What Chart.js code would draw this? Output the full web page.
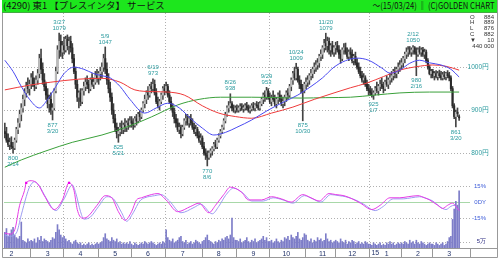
<!DOCTYPE html>
<html lang="ja">
<head>
<meta charset="utf-8">
<title>4290 プレスインタ</title>
<script src="https://cdn.jsdelivr.net/npm/chart.js@4.4.1/dist/chart.umd.min.js"></script>
<style>
  html, body { margin: 0; padding: 0; background: #fff; }
  #wrap { position: relative; width: 500px; height: 258px; overflow: hidden; }
  #chart { position: absolute; left: 0; top: 0; }
  #head { position: absolute; left: 2px; top: 0; width: 495px; height: 12px; background: #1de61d;
          border-bottom: 1px solid #4a4; font-family: 'Noto Sans CJK JP', sans-serif; line-height: 12px;
          color: #111; white-space: nowrap; }
  #head .l { position: absolute; left: 1px; top: 0; font-size: 9px; transform-origin: left center; transform: scaleX(1.05); }
  #head .r { position: absolute; right: 3px; top: 0; font-size: 9px; transform-origin: right center; transform: scaleX(0.85); }
</style>
</head>
<body>
<div id="wrap">
  <canvas id="chart" width="500" height="258"></canvas>
  <div id="head"><span class="l">(4290) 東1 【プレスインタ】 サービス</span><span class="r">～(15/03/24) ‖ (C)GOLDEN CHART</span></div>
</div>
<script>
// months on the axis (2014/2 .. 2015/3) and trading days in each
const monthLabels = ['2', '3', '4', '5', '6', '7', '8', '9', '10', '11', '12', '1', '2', '3'];
const monthDays = [16, 20, 21, 20, 21, 22, 21, 20, 22, 18, 21, 19, 19, 17];
const quarterMonths = [2, 5, 8, 11]; // dotted verticals at Apr, Jul, Oct, Jan

const priceTicks = [800, 900, 1000];
const oscTicks = [15, 0, -15];
const oscTickLabels = ['15%', '0DY', '-15%'];
const volTicks = [5];

// daily candles
const opens = [
  850,845,830,820,825,815,812,830,855,870,890,905,925,940,955,950,
  960,975,960,955,970,985,1020,995,970,955,935,915,925,900,905,945,990,1040,1060,1035,
  1050,1040,1065,1050,1060,1045,1020,990,960,930,940,920,945,955,965,960,950,970,960,965,980,
  975,985,990,1000,1020,995,970,950,930,900,880,860,845,850,860,855,865,860,870,865,
  875,870,865,880,875,890,885,900,915,925,940,935,955,950,960,940,920,910,920,935,950,
  945,955,935,920,905,895,880,870,855,860,845,860,875,880,870,880,870,860,850,855,840,830,
  835,815,800,795,790,800,805,810,820,815,830,840,850,860,875,890,905,910,915,905,900,
  905,900,905,908,903,905,910,905,900,903,910,905,912,910,905,915,925,935,930,945,
  930,920,930,925,915,925,935,925,915,920,930,940,935,955,970,985,975,995,970,960,950,945,
  960,965,970,980,985,995,1000,1005,1010,1025,1030,1045,1055,1050,1060,1040,1050,1035,
  1045,1050,1040,1030,1020,1040,1045,1035,1025,1035,1030,1015,1025,1010,1000,990,980,970,975,960,950,
  945,940,935,940,950,945,955,960,955,950,965,960,970,975,980,990,985,995,1000,
  1005,1010,1020,1030,1035,1040,1035,1040,1045,1035,1030,1040,1035,1040,1030,1035,1015,1000,985,
  990,980,985,978,985,980,975,982,978,985,980,975,950,910,885,895,884
];
const highs = [
  870,860,845,835,838,825,835,860,880,900,915,935,950,965,975,970,
  985,990,975,980,995,1030,1042,1010,985,965,950,935,940,915,950,1000,1050,1079,1075,1060,
  1070,1072,1075,1070,1072,1055,1030,1000,970,945,950,950,965,975,980,970,975,985,975,990,995,
  990,1000,1010,1030,1047,1010,985,965,940,915,890,870,860,870,875,870,880,875,880,885,
  885,880,885,890,895,900,905,920,935,945,955,960,965,973,970,950,930,925,940,955,960,
  965,960,945,930,915,905,890,880,870,865,865,880,890,890,885,890,880,870,865,860,850,845,
  840,825,810,805,805,810,815,825,830,835,845,855,865,880,895,910,920,938,920,912,910,
  912,910,915,915,912,915,918,912,910,915,918,915,920,918,920,930,940,945,953,950,
  940,935,945,935,930,940,945,935,930,935,945,950,960,975,990,1000,1009,1000,980,970,960,965,
  975,980,985,995,1000,1010,1015,1020,1030,1040,1050,1065,1079,1070,1068,1055,1060,1050,
  1058,1060,1050,1040,1045,1055,1056,1045,1040,1045,1040,1030,1035,1020,1010,1000,990,985,980,970,960,
  955,950,945,955,965,960,970,975,965,970,980,975,985,990,995,1000,1000,1010,1015,
  1020,1025,1035,1045,1048,1048,1045,1050,1048,1045,1045,1048,1045,1046,1042,1040,1020,1005,995,
  995,990,992,990,993,990,988,990,988,992,988,980,955,915,900,905,889
];
const lows = [
  835,825,815,808,810,800,808,825,845,860,875,895,910,930,940,935,
  950,955,945,950,960,975,985,960,945,925,905,895,890,877,900,940,985,1020,1025,1020,
  1030,1035,1040,1030,1035,1010,985,950,920,905,910,915,935,945,950,940,945,955,950,960,965,
  960,970,975,990,985,960,940,920,890,870,850,835,825,840,845,845,850,850,855,860,
  860,855,860,865,870,875,880,895,905,915,925,930,940,945,935,915,905,900,915,925,935,
  940,930,915,900,885,870,860,850,845,835,840,855,865,865,860,865,855,845,840,835,825,820,
  810,795,785,770,785,790,795,805,810,810,825,835,845,855,870,885,895,905,898,895,893,
  895,895,898,900,895,900,900,895,893,898,900,898,905,900,900,910,915,920,925,925,
  915,910,920,910,905,915,920,910,905,910,920,925,930,945,960,970,970,965,950,940,875,940,
  950,955,960,970,975,985,990,995,1000,1015,1020,1035,1040,1035,1030,1025,1030,1025,
  1030,1035,1020,1009,1015,1030,1030,1020,1015,1020,1010,1005,1005,995,985,975,965,960,955,945,935,
  935,930,925,935,940,935,945,950,940,945,955,950,960,965,970,975,975,985,990,
  995,1000,1010,1020,1025,1030,1025,1030,1030,980,1025,1030,1025,1025,1020,1010,995,982,975,
  975,970,975,970,975,970,970,972,970,975,968,945,905,880,861,885,876
];
const closes = [
  845,830,820,825,815,812,830,855,870,890,905,925,940,955,950,960,
  975,960,955,970,985,1020,995,970,955,935,915,925,900,905,945,990,1040,1060,1035,1050,
  1040,1065,1050,1060,1045,1020,990,960,930,940,920,945,955,965,960,950,970,960,965,980,975,
  985,990,1000,1020,995,970,950,930,900,880,860,845,850,860,855,865,860,870,865,875,
  870,865,880,875,890,885,900,915,925,940,935,955,950,960,940,920,910,920,935,950,945,
  955,935,920,905,895,880,870,855,860,845,860,875,880,870,880,870,860,850,855,840,830,835,
  815,800,795,790,800,805,810,820,815,830,840,850,860,875,890,905,910,915,905,900,905,
  900,905,908,903,905,910,905,900,903,910,905,912,910,905,915,925,935,930,945,930,
  920,930,925,915,925,935,925,915,920,930,940,935,955,970,985,975,995,970,960,950,945,960,
  965,970,980,985,995,1000,1005,1010,1025,1030,1045,1055,1050,1060,1040,1050,1035,1045,
  1050,1040,1030,1020,1040,1045,1035,1025,1035,1030,1015,1025,1010,1000,990,980,970,975,960,950,945,
  940,935,940,950,945,955,960,955,950,965,960,970,975,980,990,985,995,1000,1005,
  1010,1020,1030,1035,1040,1035,1040,1045,1035,1030,1040,1035,1040,1030,1035,1015,1000,985,990,
  980,985,978,985,980,975,982,978,985,980,975,950,910,885,895,892,882
];
// volume in 万 shares
const volumes = [
  12,15,9,11,14,16,10,8,7,9,20,6,5,4,7,5,
  6,5,7,4,8,6,9,5,7,6,5,4,6,8,7,12,18,14,10,8,
  9,7,5,6,4,3,5,6,4,3,4,2,3,2,3,4,2,3,2,3,4,
  3,4,5,8,11,7,6,5,8,6,5,7,4,5,3,4,3,4,3,5,
  3,2,4,3,2,3,4,3,5,4,3,4,5,4,3,2,3,4,3,5,4,
  14,8,6,5,7,4,5,6,8,9,5,4,6,3,4,5,3,4,6,5,4,3,
  5,6,8,10,6,5,4,3,5,4,6,5,7,6,8,9,7,10,23,8,6,
  6,5,7,4,5,6,8,5,4,6,5,7,4,5,6,7,9,6,8,5,
  5,6,4,5,7,5,4,6,5,8,7,9,6,10,8,7,9,12,7,6,8,11,
  10,6,5,7,4,6,5,8,6,7,5,6,11,7,5,6,4,5,
  6,5,4,7,5,4,6,3,5,4,6,5,3,4,5,3,4,3,5,4,3,
  3,2,4,3,2,3,4,2,3,2,4,3,5,3,4,2,3,4,3,
  4,3,5,4,3,6,4,5,3,6,4,3,5,4,3,2,3,4,3,
  3,2,4,3,2,3,4,2,3,5,8,9,22,30,36,33,44
];

// moving averages: [day, price]
const maShort = [[0,1016],[5,990],[10,955],[15,925],[21,905],[26,925],[31,955],[36,985],[42,1000],[48,995],
  [54,985],[59,980],[64,975],[70,955],[76,925],[85,893],[92,905],[99,916],[106,905],[113,880],[120,858],
  [127,842],[134,848],[141,860],[150,877],[160,900],[170,920],[178,935],[186,955],[193,975],[200,1000],
  [207,1015],[214,1021],[221,1016],[229,998],[234,986],[240,993],[246,1009],[252,1016],[258,1010],
  [265,1005],[271,995],[276,977]];
const maMid = [[0,947],[15,958],[28,965],[45,972],[59,974],[70,965],[79,947],[90,943],[99,942],[109,935],
  [120,910],[130,893],[140,885],[150,881],[162,893],[175,907],[188,925],[200,940],[210,952],[220,963],
  [230,978],[240,993],[250,1001],[260,1005],[268,1002],[276,993]];
const maLong = [[0,767],[10,784],[25,805],[41,825],[59,842],[75,862],[89,884],[105,912],[118,925],[131,930],
  [150,930],[165,929],[180,928],[195,929],[210,930],[225,935],[240,940],[258,942],[276,942]];

// oscillator (%): [day, value]
const oscA = [[0,-29],[3,-30],[6,-26],[9,-3],[12,11],[13,18],[16,20],[20,17],[24,6],[30,-7],[35,2],[39,18],
  [42,11],[44,-7],[47,-15],[50,-14],[56,-3],[61,6],[65,4],[69,-9],[73,-17],[77,-9],[80,2],[83,4],[89,7],
  [93,8],[98,2],[105,-9],[113,-4],[118,-1],[124,-10],[128,-3],[133,7],[137,14],[144,9],[148,2],[156,2],
  [162,5],[168,3],[174,0],[181,7],[186,4],[191,1],[197,8],[201,7],[206,6],[211,3],[216,-1],[223,-7],
  [228,-3],[234,4],[240,4],[245,5],[251,6],[255,4],[258,2],[263,-3],[266,-6],[269,-3],[272,-1],[274,-4],[276,-8]];
const oscB = [[0,-31],[3,-32],[7,-29],[10,-12],[13,5],[15,14],[18,19],[21,15],[25,4],[31,-8],[36,3],[41,16],
  [43,9],[46,-9],[48,-16],[52,-14],[57,-4],[62,5],[66,3],[71,-10],[74,-18],[78,-10],[82,1],[85,4],[91,6],
  [95,7],[100,1],[107,-10],[115,-5],[119,-2],[126,-11],[130,-4],[134,6],[139,13],[145,8],[150,1],[157,1],
  [163,4],[169,2],[175,-1],[182,6],[187,3],[192,0],[198,7],[203,6],[207,5],[213,2],[218,-2],[225,-8],
  [230,-4],[236,3],[242,3],[247,4],[252,5],[257,3],[260,1],[264,-4],[268,-7],[271,-4],[273,-3],[275,-7]];
const oscSignals = [[13,18],[39,18]];

// high / low notes: day index, which end, date text
const notes = [
  { i: 5, hi: false, date: '2/14' }, { i: 29, hi: false, date: '3/20' }, { i: 33, hi: true, date: '3/27' },
  { i: 61, hi: true, date: '5/9' }, { i: 69, hi: false, date: '5/21' }, { i: 90, hi: true, date: '6/19' },
  { i: 123, hi: false, date: '8/6' }, { i: 137, hi: true, date: '8/26' }, { i: 159, hi: true, date: '9/29' },
  { i: 177, hi: true, date: '10/24' }, { i: 181, hi: false, date: '10/30' }, { i: 195, hi: true, date: '11/20' },
  { i: 224, hi: false, date: '1/7' }, { i: 248, hi: true, date: '2/12' }, { i: 250, hi: false, date: '2/16' },
  { i: 274, hi: false, date: '3/20' }
];

const FONT = "'Liberation Sans', 'DejaVu Sans', sans-serif";

const monthStarts = [];
monthDays.reduce((acc, n) => { monthStarts.push(acc); return acc + n; }, 0);
const monthTickAt = monthStarts.map((s, k) => (k === 0 ? 4 : s + 10));

const days = opens.map((_, i) => i);
const pts = arr => arr.map(([x, y]) => ({ x, y }));

const deco = {
  id: 'deco',
  beforeDatasetsDraw(chart) {
    const { ctx, chartArea: a, scales: { x, yP, yO, yV } } = chart;
    ctx.save();
    ctx.lineWidth = 1;
    const hline = y => {
      y = Math.round(y) + 0.5;
      ctx.beginPath(); ctx.moveTo(a.left, y); ctx.lineTo(a.right, y); ctx.stroke();
    };
    ctx.strokeStyle = '#b0b0b0';
    ctx.setLineDash([1, 2]);
    priceTicks.forEach(v => hline(yP.getPixelForValue(v)));
    oscTicks.filter(v => v !== 0).forEach(v => hline(yO.getPixelForValue(v)));
    volTicks.forEach(v => hline(yV.getPixelForValue(v)));
    quarterMonths.forEach(k => {
      const xx = Math.round(x.getPixelForValue(monthStarts[k] - 0.5)) + 0.5;
      ctx.beginPath(); ctx.moveTo(xx, a.top); ctx.lineTo(xx, a.bottom); ctx.stroke();
    });
    ctx.setLineDash([]);
    ctx.strokeStyle = '#a8d8a8';
    hline(yO.getPixelForValue(0));
    ctx.restore();
  },
  afterDraw(chart) {
    const { ctx, chartArea: a, scales: { x, yP, yO, yV } } = chart;
    ctx.save();

    // high/low notes
    ctx.font = '6px ' + FONT;
    ctx.fillStyle = '#2a9a9e';
    ctx.textAlign = 'center';
    ctx.textBaseline = 'middle';
    notes.forEach(n => {
      const xx = x.getPixelForValue(n.i);
      if (n.hi) {
        const y = yP.getPixelForValue(highs[n.i]);
        ctx.fillText(n.date, xx, y - 11);
        ctx.fillText(String(highs[n.i]), xx, y - 5);
      } else {
        const y = yP.getPixelForValue(lows[n.i]);
        ctx.fillText(String(lows[n.i]), xx, y + 5);
        ctx.fillText(n.date, xx, y + 11);
      }
    });

    // right-hand scale labels
    ctx.textAlign = 'right';
    ctx.font = '6.5px ' + FONT;
    ctx.fillStyle = '#2a9a9e';
    priceTicks.forEach(v => ctx.fillText(v + '円', 489, yP.getPixelForValue(v)));
    ctx.font = '6px ' + FONT;
    ctx.fillStyle = '#3a5ad8';
    oscTicks.forEach((v, k) => ctx.fillText(oscTickLabels[k], 486, yO.getPixelForValue(v)));
    ctx.fillStyle = '#2a2a80';
    volTicks.forEach(v => ctx.fillText(v + '万', 486, yV.getPixelForValue(v)));

    // last day box
    const n = opens.length - 1;
    const diff = closes[n] - closes[n - 1];
    const rows = [['O', opens[n]], ['H', highs[n]], ['L', lows[n]], ['C', closes[n]],
                  [diff < 0 ? '▼' : '▲', Math.abs(diff)]];
    ctx.fillStyle = '#333';
    rows.forEach(([k, v], r) => {
      const y = 17 + r * 5.8;
      ctx.textAlign = 'left'; ctx.fillText(k, 470, y);
      ctx.textAlign = 'right'; ctx.fillText(String(v), 494, y);
    });
    const shares = String(volumes[n] * 10000);
    ctx.fillText(shares.slice(0, -3) + ' ' + shares.slice(-3), 494, 46);

    // frame and month row
    ctx.strokeStyle = '#999';
    ctx.lineWidth = 1;
    ctx.beginPath();
    ctx.moveTo(2.5, 0); ctx.lineTo(2.5, 257.5); ctx.lineTo(497.5, 257.5); ctx.lineTo(497.5, 0);
    ctx.moveTo(2, a.bottom + 0.5); ctx.lineTo(498, a.bottom + 0.5);
    monthStarts.slice(1).forEach(s => {
      const xx = Math.round(x.getPixelForValue(s - 0.5)) + 0.5;
      ctx.moveTo(xx, a.bottom); ctx.lineTo(xx, 257);
    });
    ctx.moveTo(a.right + 0.5, a.bottom); ctx.lineTo(a.right + 0.5, 257);
    ctx.stroke();

    ctx.font = '7px ' + FONT;
    ctx.fillStyle = '#22336a';
    ctx.textAlign = 'left';
    ctx.fillText('15', x.getPixelForValue(monthStarts[11] - 0.5) + 2, a.bottom + 5);
    ctx.restore();
  }
};

new Chart(document.getElementById('chart'), {
  type: 'bar',
  data: {
    datasets: [
      { type: 'line', data: pts(oscSignals), yAxisID: 'yO', showLine: false, pointStyle: 'rect',
        pointRadius: 1.6, pointBackgroundColor: '#ee00ee', pointBorderWidth: 0, order: 0 },
      { type: 'line', data: pts(oscA), yAxisID: 'yO', borderColor: '#e63ce6', borderWidth: 1,
        pointRadius: 0, cubicInterpolationMode: 'monotone', order: 1 },
      { type: 'line', data: pts(oscB), yAxisID: 'yO', borderColor: '#9d9cf2', borderWidth: 1,
        pointRadius: 0, cubicInterpolationMode: 'monotone', order: 2 },
      { type: 'line', data: pts(maShort), yAxisID: 'yP', borderColor: '#4a4af0', borderWidth: 1,
        pointRadius: 0, cubicInterpolationMode: 'monotone', order: 3 },
      { type: 'line', data: pts(maMid), yAxisID: 'yP', borderColor: '#ee3a3a', borderWidth: 1,
        pointRadius: 0, cubicInterpolationMode: 'monotone', order: 3 },
      { type: 'line', data: pts(maLong), yAxisID: 'yP', borderColor: '#3aa03a', borderWidth: 1,
        pointRadius: 0, cubicInterpolationMode: 'monotone', order: 3 },
      { data: days.map(i => ({ x: i, y: [opens[i], closes[i]] })), yAxisID: 'yP', grouped: false,
        barThickness: 1.4, minBarLength: 1,
        backgroundColor: days.map(i => (closes[i] >= opens[i] ? '#bcbcbc' : '#2a2a2a')), order: 4 },
      { data: days.map(i => ({ x: i, y: [lows[i], highs[i]] })), yAxisID: 'yP', grouped: false,
        barThickness: 1, backgroundColor: '#444', order: 5 },
      { data: days.map(i => ({ x: i, y: volumes[i] })), yAxisID: 'yV', grouped: false,
        barThickness: 1, backgroundColor: '#7d7dc8', order: 6 }
    ]
  },
  options: {
    responsive: false,
    animation: false,
    devicePixelRatio: 1,
    layout: { padding: { top: 13, left: 2, right: 0, bottom: 0 } },
    plugins: { legend: { display: false }, tooltip: { enabled: false } },
    scales: {
      x: {
        type: 'linear', min: -0.5, max: 282.6, offset: false,
        grid: { display: false, drawTicks: false }, border: { display: false },
        afterBuildTicks: s => { s.ticks = monthTickAt.map(v => ({ value: v })); },
        afterFit: s => { s.height = 10; },
        ticks: { autoSkip: false, maxRotation: 0, minRotation: 0, padding: 2, color: '#22336a',
                 font: { family: FONT, size: 7 }, callback: (v, k) => monthLabels[k] }
      },
      yP: {
        type: 'linear', position: 'right', min: 579, max: 1126,
        grid: { display: false, drawTicks: false }, border: { display: false },
        afterFit: s => { s.width = 30; },
        ticks: { display: false }
      },
      yO: { type: 'linear', display: false, min: -43, max: 177 },
      yV: { type: 'linear', display: false, min: 0, max: 181 }
    }
  },
  plugins: [deco]
});
</script>
</body>
</html>
